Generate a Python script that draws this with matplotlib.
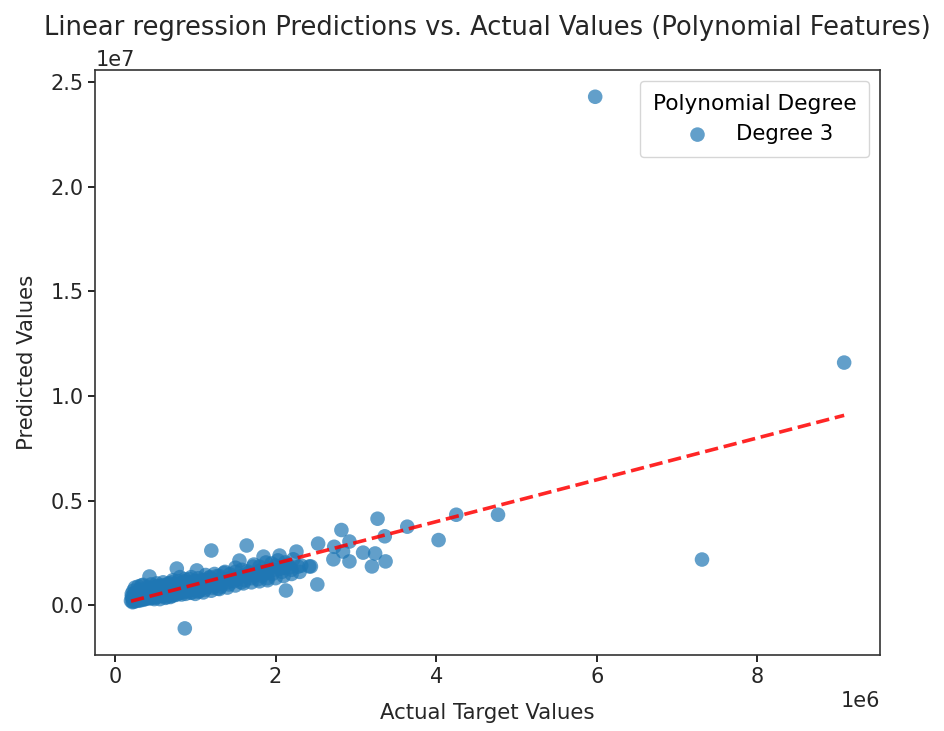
import matplotlib
matplotlib.use("Agg")
import matplotlib.pyplot as plt
import numpy as np

# Test-set targets and model predictions (in millions)
actual_m = [
    0.20, 0.21, 0.22, 0.23, 0.24, 0.25, 0.26, 0.27, 0.28, 0.29, 0.30, 0.31, 0.32, 0.33, 0.34,
    0.35, 0.36, 0.37, 0.38, 0.39, 0.40, 0.41, 0.42, 0.43, 0.44, 0.45, 0.46, 0.47, 0.48, 0.49,
    0.50, 0.51, 0.52, 0.53, 0.54, 0.55, 0.56, 0.57, 0.58, 0.59, 0.60, 0.61, 0.62, 0.63, 0.64,
    0.65, 0.66, 0.67, 0.68, 0.69, 0.70, 0.71, 0.72, 0.73, 0.74, 0.75, 0.76, 0.77, 0.78, 0.79,
    0.80, 0.81, 0.82, 0.83, 0.84, 0.85, 0.86, 0.87, 0.88, 0.89, 0.90, 0.92, 0.93, 0.94, 0.95,
    0.96, 0.98, 1.00, 1.01, 1.02, 1.03, 1.04, 1.05, 1.07, 1.08, 1.10, 1.12, 1.14, 1.15, 1.17,
    1.18, 1.20, 1.21, 1.23, 1.25, 1.27, 1.28, 1.30, 1.32, 1.35, 1.37, 1.40, 1.42, 1.45, 1.48,
    1.50, 1.52, 1.55, 1.57, 1.60, 1.62, 1.64, 1.66, 1.70, 1.72, 1.75, 1.78, 1.80, 1.83, 1.85,
    1.88, 1.90, 1.93, 1.96, 2.00, 2.05, 2.08, 2.10, 2.13, 2.15, 2.20, 2.26, 2.28, 2.32, 2.42,
    2.44, 2.52, 2.53, 2.72, 2.73, 2.82, 2.84, 2.92, 2.92, 3.09, 3.20, 3.24, 3.27, 3.36, 3.37,
    3.64, 4.03, 4.25, 4.77, 5.98, 7.31, 9.08,
    0.22, 0.26, 0.30, 0.34, 0.38, 0.42, 0.46, 0.50, 0.55, 0.60, 0.66, 0.72, 0.78, 0.86, 0.94,
    0.24, 0.28, 0.33, 0.37, 0.41, 0.45, 0.52, 0.58, 0.64, 0.70, 0.77, 0.84, 0.91, 0.99, 1.06,
    1.13, 1.19, 1.26, 1.33, 1.41, 1.49, 1.58, 1.68, 1.77, 1.87, 1.97, 2.06, 2.18, 0.87,
    0.21, 0.23, 0.25, 0.27, 0.29, 0.31, 0.33, 0.35, 0.37, 0.39, 0.41, 0.43, 0.45, 0.47, 0.50,
    0.52, 0.55, 0.58, 0.60, 0.63, 0.66, 0.69, 0.72, 0.75, 0.79, 0.83, 0.87, 0.91, 0.95, 0.99,
    1.04, 1.09, 1.13, 1.18, 1.24, 1.30, 1.36, 1.43, 1.50, 1.58, 1.65, 1.73, 1.80, 1.88, 1.95,
    2.03, 2.12, 2.22,
    1.00, 1.10, 1.20, 1.30, 1.40, 1.50, 1.60, 1.70, 1.80, 1.90, 2.00, 2.10, 2.20, 2.30,
]
predicted_m = [
    0.22, 0.40, 0.35, 0.18, 0.55, 0.30, 0.25, 0.45, 0.62, 0.28, 0.38, 0.60, 0.28, 0.95, 0.42,
    0.33, 0.55, 0.30, 0.48, 0.75, 0.36, 0.70, 0.40, 1.38, 0.52, 0.34, 0.62, 0.85, 0.44, 0.30,
    0.38, 0.80, 0.50, 0.92, 0.42, 0.66, 0.30, 0.88, 0.55, 0.45, 0.48, 0.95, 0.60, 0.36, 0.40,
    0.72, 0.52, 1.05, 0.62, 0.40, 0.45, 1.10, 0.70, 0.48, 0.56, 0.85, 0.50, 1.76, 0.66, 0.95,
    0.58, 1.35, 0.75, 0.52, 0.62, 0.95, 1.15, 0.68, 0.55, 0.80, 0.80, 0.70, 1.25, 0.60, 0.78,
    0.62, 0.90, 0.72, 1.15, 1.67, 0.85, 0.65, 0.70, 1.00, 0.80, 0.92, 0.75, 1.20, 0.88, 1.30,
    1.05, 2.62, 0.85, 1.15, 0.95, 1.40, 0.80, 1.05, 0.90, 1.25, 1.60, 1.10, 1.00, 1.30, 1.15,
    1.80, 1.25, 2.14, 1.10, 1.40, 1.20, 2.86, 1.55, 1.30, 1.85, 1.45, 1.25, 1.65, 1.40, 2.33,
    1.55, 1.30, 1.75, 1.50, 1.90, 2.38, 1.60, 1.80, 0.71, 1.95, 1.70, 2.57, 1.85, 1.90, 1.86,
    1.86, 1.00, 2.95, 2.20, 2.80, 3.60, 2.57, 3.05, 2.10, 2.52, 1.86, 2.48, 4.14, 3.30, 2.10,
    3.76, 3.12, 4.33, 4.33, 24.30, 2.19, 11.60,
    0.15, 0.20, 0.22, 0.26, 0.30, 0.34, 0.38, 0.42, 0.46, 0.50, 0.55, 0.60, 0.66, 0.72, 0.78,
    0.30, 0.36, 0.40, 0.45, 0.50, 0.56, 0.60, 0.66, 0.72, 0.78, 0.84, 0.90, 0.95, 1.00, 1.05,
    1.10, 1.12, 1.18, 1.22, 1.28, 1.35, 1.40, 1.48, 1.55, 1.62, 1.70, 1.75, 1.82, -1.10,
    0.55, 0.70, 0.85, 0.62, 0.90, 0.75, 0.58, 0.98, 0.72, 0.60, 0.88, 0.66, 1.00, 0.75, 0.62,
    1.05, 0.80, 0.95, 1.10, 0.82, 1.00, 0.90, 1.20, 1.02, 1.15, 1.05, 1.25, 1.10, 1.35, 1.15,
    1.30, 1.20, 1.45, 1.35, 1.50, 1.40, 1.55, 1.48, 1.60, 1.70, 1.62, 1.95, 1.85, 2.05, 2.00,
    2.15, 2.05, 2.20,
    0.55, 0.62, 0.70, 0.78, 0.85, 0.95, 1.05, 1.10, 1.15, 1.20, 1.30, 1.40, 1.50, 1.60,
]

degree_label = "Degree 3"
legend_title = "Polynomial Degree"

actual = np.array(actual_m) * 1e6
predicted = np.array(predicted_m) * 1e6

fig = plt.figure(figsize=(9.44, 7.31), dpi=100)
ax = fig.add_axes([0.101, 0.104, 0.831, 0.800])

ax.scatter(actual, predicted, s=110, alpha=0.7, color="#1f77b4",
           edgecolors="none", label=degree_label)
ax.plot([actual.min(), actual.max()], [actual.min(), actual.max()],
        color="red", linestyle="--", linewidth=2.6, alpha=0.85)

text_color = "#262626"
ax.set_title("Linear regression Predictions vs. Actual Values (Polynomial Features)",
             fontsize=18.5, pad=11, color=text_color)
ax.set_xlabel("Actual Target Values", fontsize=15.3, labelpad=12, color=text_color)
ax.set_ylabel("Predicted Values", fontsize=15.3, labelpad=10, color=text_color)
ax.tick_params(labelsize=15, length=5, width=1.2, labelcolor=text_color)
ax.xaxis.get_offset_text().set_fontsize(15)
ax.yaxis.get_offset_text().set_fontsize(15)
for sp in ax.spines.values():
    sp.set_linewidth(1.2)
    sp.set_color("#333333")

leg = ax.legend(title=legend_title, loc="upper right", fontsize=15.3,
                title_fontsize=15.6, borderpad=0.6)

fig.savefig("out.png", dpi=100)
